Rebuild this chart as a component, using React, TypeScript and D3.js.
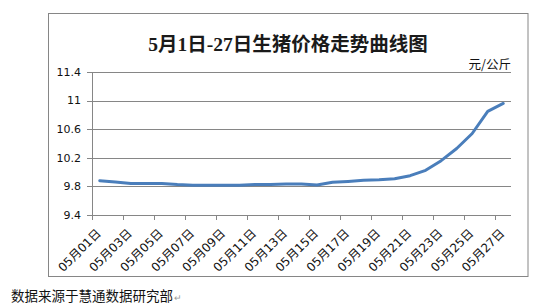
import React from "react";
import * as d3 from "d3";

const days: string[] = Array.from({ length: 27 }, (_, i) => `05月${String(i + 1).padStart(2, "0")}日`);
const prices: number[] = [
  9.88, 9.86, 9.84, 9.84, 9.84, 9.825, 9.815, 9.815, 9.815, 9.815,
  9.825, 9.825, 9.834, 9.834, 9.82, 9.857, 9.87, 9.885, 9.894, 9.908,
  9.95, 10.025, 10.16, 10.33, 10.54, 10.85, 10.96,
];
const yTicks: number[] = [9.4, 9.8, 10.2, 10.6, 11, 11.4];
const title = "5月1日-27日生猪价格走势曲线图";
const unit = "元/公斤";
const source = "数据来源于慧通数据研究部";

const W = 536, H = 308;
const plot = { left: 92, right: 511, top: 72, bottom: 215 };

export default function App() {
  const x = d3.scaleBand<string>().domain(days).range([plot.left, plot.right]).paddingInner(0).paddingOuter(0);
  const y = d3.scaleLinear().domain([9.4, 11.4]).range([plot.bottom, plot.top]);
  const line = d3
    .line<number>()
    .x((_, i) => (x(days[i]) as number) + x.bandwidth() / 2)
    .y((d) => y(d));
  const labelFont = "'DejaVu Sans', 'Noto Sans CJK SC', sans-serif";
  const tickIdx = days.map((_, i) => i).filter((i) => i % 2 === 0);
  return (
    <svg width={W} height={H} style={{ position: "absolute", left: 0, top: 0, background: "#fff" }}>
      <rect x={48.5} y={13.5} width={479.5} height={263} fill="#fff" stroke="#868686" strokeWidth={1} />
      <text x={288} y={51} textAnchor="middle" fontSize={19.5} fontWeight="bold"
        fontFamily="'Liberation Serif', 'Noto Sans CJK SC', serif" fill="#1a1a1a">{title}</text>
      <text x={511} y={69} textAnchor="end" fontSize={12.5} fontFamily="'Noto Sans CJK SC', sans-serif" fill="#111">{unit}</text>
      {yTicks.map((t) => (
        <g key={t}>
          <line x1={plot.left} x2={plot.right} y1={Math.round(y(t)) + 0.5} y2={Math.round(y(t)) + 0.5} stroke="#868686" strokeWidth={1} />
          <line x1={plot.left - 5} x2={plot.left} y1={Math.round(y(t)) + 0.5} y2={Math.round(y(t)) + 0.5} stroke="#868686" strokeWidth={1} />
          <text x={81} y={y(t)} dy="0.35em" textAnchor="end" fontSize={11} fontFamily={labelFont} fill="#111">{t}</text>
        </g>
      ))}
      <line x1={plot.left + 0.5} x2={plot.left + 0.5} y1={plot.top} y2={plot.bottom + 5} stroke="#868686" strokeWidth={1} />
      {tickIdx.map((i) => {
        const bx = Math.round(x(days[i]) as number) + 0.5;
        return <line key={"t" + i} x1={bx} x2={bx} y1={plot.bottom} y2={plot.bottom + 5} stroke="#868686" strokeWidth={1} />;
      })}
      {tickIdx.map((i) => {
        const cx = (x(days[i]) as number) + x.bandwidth() / 2;
        return (
          <text key={"l" + i} transform={`translate(${cx + 2},${plot.bottom + 19}) rotate(-45)`} textAnchor="end"
            fontSize={12} fontFamily={labelFont} fill="#111">{days[i]}</text>
        );
      })}
      <path d={line(prices) ?? ""} fill="none" stroke="#4A7EBB" strokeWidth={3} strokeLinejoin="round" strokeLinecap="round" />
      <text x={11} y={301} fontSize={13.5} fontFamily="'Noto Sans CJK SC', sans-serif" fill="#111">
        {source}
        <tspan fontSize={9} fill="#999" dx={1}>↵</tspan>
      </text>
    </svg>
  );
}
